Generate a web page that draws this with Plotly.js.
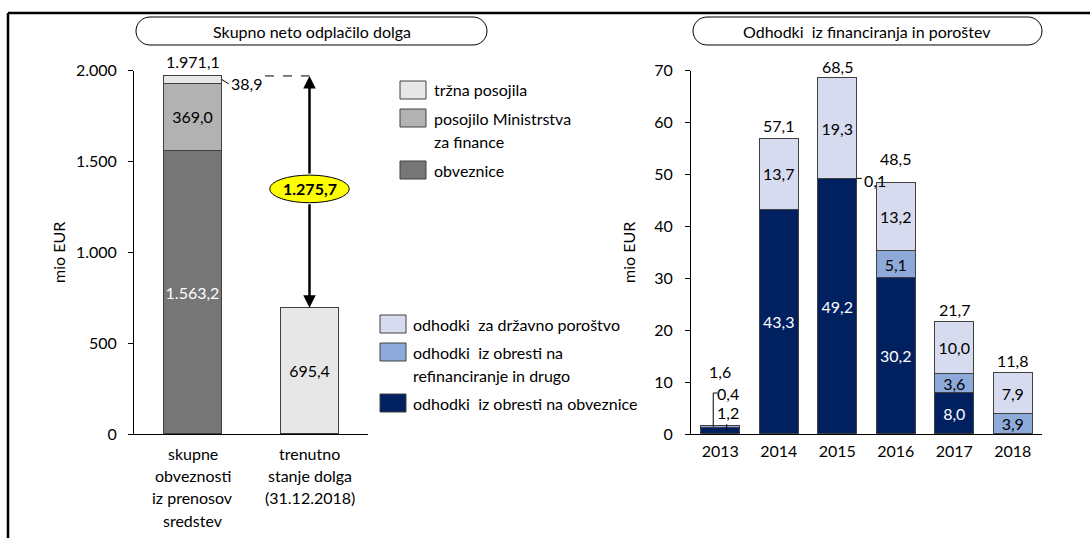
<!DOCTYPE html>
<html>
<head>
<meta charset="utf-8">
<script src="https://cdn.plot.ly/plotly-3.0.1.min.js"></script>
<style>html,body{margin:0;padding:0;background:#fff;}#chart{width:1090px;height:538px;}</style>
</head>
<body>
<div id="chart"></div>
<script>
// ---------- data ----------
const leftCategoryLines = [['skupne','obveznosti','iz prenosov','sredstev'], ['trenutno','stanje dolga','(31.12.2018)']];
const leftCategories = leftCategoryLines.map(l => l.join(' '));
const leftSeriesNames = ['obveznice', 'posojilo Ministrstva za finance', 'tržna posojila'];
const leftLegendLines = [['tržna posojila'], ['posojilo Ministrstva','za finance'], ['obveznice']];
const obveznice = [1563.2, 0];
const posojiloMF = [369.0, 0];
const trznaPosojila = [38.9, 695.4];
const leftTotals = [1971.1, null];

const years = ['2013','2014','2015','2016','2017','2018'];
const rightSeriesNames = ['odhodki iz obresti na obveznice', 'odhodki iz obresti na refinanciranje in drugo', 'odhodki za državno poroštvo'];
const rightLegendLines = [['odhodki  za državno poroštvo'], ['odhodki  iz obresti na','refinanciranje in drugo'], ['odhodki  iz obresti na obveznice']];
const obrestiObveznice = [1.2, 43.3, 49.2, 30.2, 8.0, 0];
const obrestiRefin = [0.4, 0, 0.1, 5.1, 3.6, 3.9];
const drzavnoPorostvo = [0, 13.7, 19.3, 13.2, 10.0, 7.9];
const rightTotals = [1.6, 57.1, 68.5, 48.5, 21.7, 11.8];

const titleLeft = 'Skupno neto odplačilo dolga';
const titleRight = 'Odhodki  iz financiranja in poroštev';
const yTitle = 'mio EUR';

// ---------- styling ----------
const W = 1090, H = 538;
const FONT = 'Lato, "Open Sans", sans-serif';
const FS = 16;
const px = p => p / W;
const py = p => 1 - p / H;
const leftColors = ['#767676', '#b2b2b2', '#e7e7e7'];
const rightColors = ['#002060', '#8eaadb', '#d7dbf0'];
const edge = '#404040';

function fmt(v) {
  const s = v.toFixed(1).split('.');
  const int = s[0].replace(/\B(?=(\d{3})+(?!\d))/g, '.');
  return int + ',' + s[1];
}
function labels(arr, min) { return arr.map(v => (v >= min ? fmt(v) : '')); }

function barTrace(x, y, name, color, txtColor, xa, ya, width, min) {
  return {
    type: 'bar', x: x, y: y, name: name, xaxis: xa, yaxis: ya, width: width,
    marker: {color: color, line: {color: edge, width: 1}},
    text: labels(y, min), textposition: 'inside', insidetextanchor: 'middle',
    constraintext: 'none', textangle: 0,
    textfont: {family: FONT, size: FS, color: txtColor},
    hoverinfo: 'skip', showlegend: false
  };
}

const data = [
  barTrace(leftCategories, obveznice, leftSeriesNames[0], leftColors[0], '#ffffff', 'x', 'y', 0.5, 100),
  barTrace(leftCategories, posojiloMF, leftSeriesNames[1], leftColors[1], '#000000', 'x', 'y', 0.5, 100),
  barTrace(leftCategories, trznaPosojila, leftSeriesNames[2], leftColors[2], '#000000', 'x', 'y', 0.5, 100),
  barTrace(years, obrestiObveznice, rightSeriesNames[0], rightColors[0], '#ffffff', 'x2', 'y2', 0.66, 2),
  barTrace(years, obrestiRefin, rightSeriesNames[1], rightColors[1], '#000000', 'x2', 'y2', 0.66, 2),
  barTrace(years, drzavnoPorostvo, rightSeriesNames[2], rightColors[2], '#000000', 'x2', 'y2', 0.66, 2)
];

const yDomain = [1 - 434 / H, 1 - 70.7 / H];
const axisCommon = {
  showline: true, linecolor: '#000', linewidth: 1, showgrid: false, zeroline: false,
  tickfont: {family: FONT, size: FS, color: '#000'}, fixedrange: true
};

const shapes = [];
const annotations = [];
const txt = (o) => Object.assign({showarrow: false, font: {family: FONT, size: FS, color: '#000'}}, o);

// frame
shapes.push({type: 'line', xref: 'paper', yref: 'paper', x0: px(8), x1: px(8), y0: py(13), y1: py(538), line: {color: '#000', width: 2.5}});
shapes.push({type: 'line', xref: 'paper', yref: 'paper', x0: px(8), x1: px(1090), y0: py(13), y1: py(13), line: {color: '#000', width: 2.5}});

// rounded title boxes
function roundBox(x0, x1, y0, y1) {
  const r = (y1 - y0) / 2, k = 0.5523 * r;
  const P = (a, b) => px(a).toFixed(5) + ',' + py(b).toFixed(5);
  return 'M' + P(x0 + r, y0) + ' L' + P(x1 - r, y0) +
    ' C' + P(x1 - r + k, y0) + ' ' + P(x1, y0 + r - k) + ' ' + P(x1, y0 + r) +
    ' C' + P(x1, y0 + r + k) + ' ' + P(x1 - r + k, y1) + ' ' + P(x1 - r, y1) +
    ' L' + P(x0 + r, y1) +
    ' C' + P(x0 + r - k, y1) + ' ' + P(x0, y0 + r + k) + ' ' + P(x0, y0 + r) +
    ' C' + P(x0, y0 + r - k) + ' ' + P(x0 + r - k, y0) + ' ' + P(x0 + r, y0) + ' Z';
}
[[136, 487, titleLeft], [693, 1042, titleRight]].forEach(b => {
  shapes.push({type: 'path', xref: 'paper', yref: 'paper', path: roundBox(b[0], b[1], 17, 45), line: {color: '#000', width: 1}});
  annotations.push(txt({xref: 'paper', yref: 'paper', x: px((b[0] + b[1]) / 2), y: py(31), text: b[2], xanchor: 'center', yanchor: 'middle'}));
});

// y-axis titles
annotations.push(txt({xref: 'paper', yref: 'paper', x: px(58), y: py(253), text: yTitle, textangle: -90, xanchor: 'center', yanchor: 'middle'}));
annotations.push(txt({xref: 'paper', yref: 'paper', x: px(628), y: py(253), text: yTitle, textangle: -90, xanchor: 'center', yanchor: 'middle'}));

// left category labels (multi-line)
leftCategoryLines.forEach((lines, ci) => {
  lines.forEach((l, li) => {
    annotations.push(txt({xref: 'x', yref: 'paper', x: ci, y: py(453 + li * 22.4), text: l, xanchor: 'center', yanchor: 'middle'}));
  });
});

// totals
leftTotals.forEach((t, i) => {
  if (t !== null) annotations.push(txt({xref: 'x', yref: 'y', x: i, y: t, text: fmt(t), xanchor: 'center', yanchor: 'middle', yshift: 14}));
});
const totalShift = {0: 54, 3: 24};
rightTotals.forEach((t, i) => {
  annotations.push(txt({xref: 'x2', yref: 'y2', x: i, y: t, text: fmt(t), xanchor: 'center', yanchor: 'middle', yshift: (totalShift[i] || 12)}));
});

// small-segment labels with leaders (left)
const topLeft = obveznice[0] + posojiloMF[0] + trznaPosojila[0];
annotations.push(txt({xref: 'x', yref: 'y', x: 0.31, y: obveznice[0] + posojiloMF[0] + trznaPosojila[0] / 2, text: fmt(trznaPosojila[0]), xanchor: 'left', yanchor: 'middle', yshift: -4}));
shapes.push({type: 'line', xref: 'x', yref: 'y', x0: 0.25, x1: 0.31, y0: obveznice[0] + posojiloMF[0] + trznaPosojila[0] / 2, y1: obveznice[0] + posojiloMF[0] - 5, line: {color: '#000', width: 1}});
shapes.push({type: 'line', xref: 'x', yref: 'y', x0: 0.62, x1: 1, y0: topLeft, y1: topLeft, line: {color: '#000', width: 1, dash: 'dash'}});

// difference arrow + yellow ellipse
const diff = topLeft - trznaPosojila[1];
const ellC = (topLeft + trznaPosojila[1]) / 2 + 16;
const ellH = 76;
shapes.push({type: 'circle', xref: 'x', yref: 'y', x0: 0.66, x1: 1.34, y0: ellC - ellH, y1: ellC + ellH, fillcolor: '#ffff00', line: {color: '#000', width: 1}, layer: 'above'});
annotations.push({xref: 'x', yref: 'y', x: 1, y: topLeft, ax: 1, ay: ellC + ellH, axref: 'x', ayref: 'y', text: '', showarrow: true, arrowhead: 2, arrowsize: 1, arrowwidth: 2.5, arrowcolor: '#000', standoff: 0});
annotations.push({xref: 'x', yref: 'y', x: 1, y: trznaPosojila[1], ax: 1, ay: ellC - ellH, axref: 'x', ayref: 'y', text: '', showarrow: true, arrowhead: 2, arrowsize: 1, arrowwidth: 2.5, arrowcolor: '#000', standoff: 0});
annotations.push(txt({xref: 'x', yref: 'y', x: 1, y: ellC, text: '<b>' + fmt(diff) + '</b>', xanchor: 'center', yanchor: 'middle'}));

// small-segment labels (right)
// 2013
const y13a = obrestiObveznice[0] + obrestiRefin[0] / 2;
shapes.push({type: 'line', xref: 'x2', yref: 'y2', x0: -0.12, x1: -0.12, y0: y13a, y1: 7.9, line: {color: '#000', width: 1}});
shapes.push({type: 'line', xref: 'x2', yref: 'y2', x0: -0.12, x1: -0.05, y0: 7.9, y1: 7.9, line: {color: '#000', width: 1}});
annotations.push(txt({xref: 'x2', yref: 'y2', x: 0.14, y: 7.9, text: fmt(obrestiRefin[0]), xanchor: 'center', yanchor: 'middle'}));
shapes.push({type: 'line', xref: 'x2', yref: 'y2', x0: 0.11, x1: 0.11, y0: obrestiObveznice[0] / 2, y1: 1.9, line: {color: '#000', width: 1}});
annotations.push(txt({xref: 'x2', yref: 'y2', x: 0.14, y: 4.2, text: fmt(obrestiObveznice[0]), xanchor: 'center', yanchor: 'middle'}));
// 2015 0,1
const y15 = obrestiObveznice[2] + obrestiRefin[2] / 2;
shapes.push({type: 'line', xref: 'x2', yref: 'y2', x0: 2.33, x1: 2.42, y0: y15, y1: y15, line: {color: '#000', width: 1}});
annotations.push(txt({xref: 'x2', yref: 'y2', x: 2.42, y: y15, text: fmt(obrestiRefin[2]), xanchor: 'left', yanchor: 'middle', yshift: -2}));

// manual legends
function legend(items, colors, bx, tx, lineYs) {
  items.forEach((lines, i) => {
    const yc = lineYs[i][0];
    shapes.push({type: 'rect', xref: 'paper', yref: 'paper', x0: px(bx), x1: px(bx + 26), y0: py(yc + 9), y1: py(yc - 9), fillcolor: colors[i], line: {color: edge, width: 1}});
    lines.forEach((l, li) => {
      annotations.push(txt({xref: 'paper', yref: 'paper', x: px(tx), y: py(lineYs[i][li]), text: l, xanchor: 'left', yanchor: 'middle'}));
    });
  });
}
legend(leftLegendLines, [leftColors[2], leftColors[1], leftColors[0]], 400, 432, [[90], [118, 141], [170]]);
legend(rightLegendLines, [rightColors[2], rightColors[1], rightColors[0]], 380, 411, [[324], [352, 375], [403]]);

const layout = {
  width: W, height: H, margin: {l: 0, r: 0, t: 0, b: 0},
  paper_bgcolor: '#fff', plot_bgcolor: 'rgba(0,0,0,0)',
  separators: ',.', barmode: 'stack', showlegend: false,
  font: {family: FONT, size: FS, color: '#000'},
  xaxis: Object.assign({}, axisCommon, {domain: [px(134), px(368)], type: 'category', ticks: '', showticklabels: false, range: [-0.5, 1.5]}),
  yaxis: Object.assign({}, axisCommon, {domain: yDomain, range: [0, 2000], dtick: 500, tickformat: ',d', ticks: 'outside', ticklen: 5, tickcolor: '#000', ticklabelstandoff: 8}),
  xaxis2: Object.assign({}, axisCommon, {domain: [px(691), px(1042)], anchor: 'y2', type: 'category', ticks: '', range: [-0.5, 5.5], ticklabelstandoff: 3}),
  yaxis2: Object.assign({}, axisCommon, {domain: yDomain, anchor: 'x2', range: [0, 70], dtick: 10, ticks: 'outside', ticklen: 5, tickcolor: '#000', ticklabelstandoff: 9}),
  shapes: shapes, annotations: annotations
};

Plotly.newPlot('chart', data, layout, {staticPlot: true, displayModeBar: false});
</script>
</body>
</html>
